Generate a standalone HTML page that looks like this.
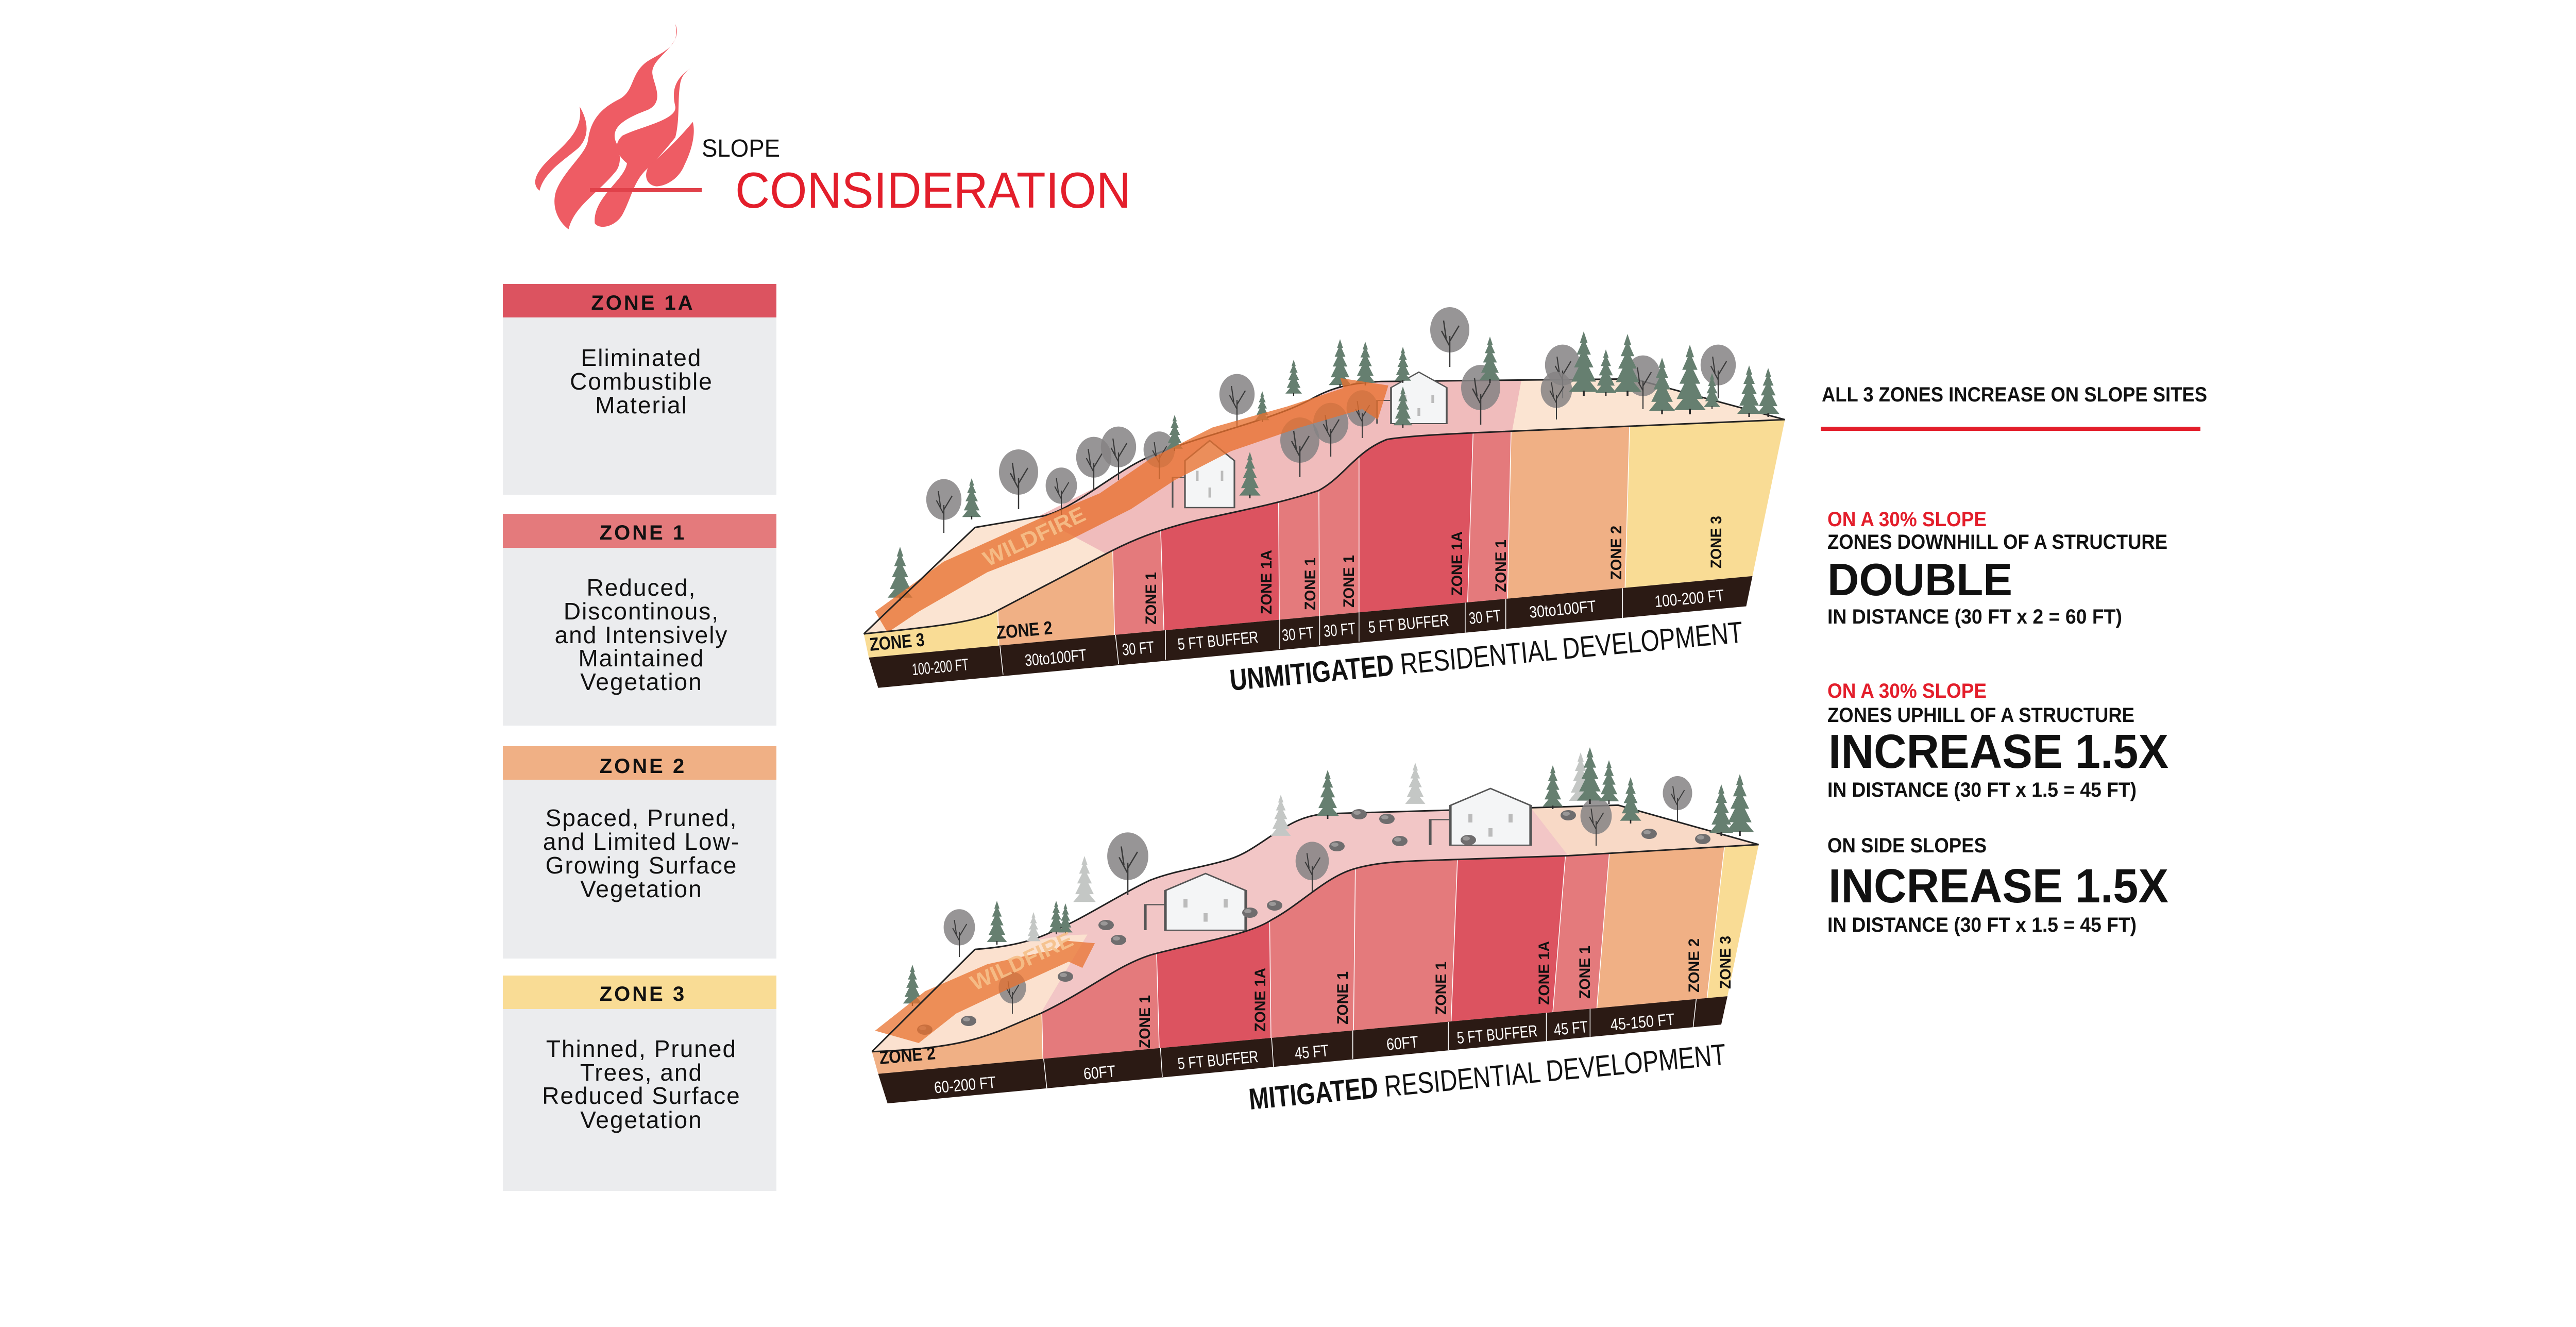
<!DOCTYPE html>
<html><head><meta charset="utf-8"><style>
html,body{margin:0;padding:0;background:#fff;}
svg{display:block;}
</style></head><body>
<svg xmlns="http://www.w3.org/2000/svg" width="5278" height="2575" viewBox="0 0 5278 2575">
<defs>
<g id="con"><path d="M0,-100 L-6,-82 L-3,-82 L-11,-64 L-5,-64 L-15,-44 L-8,-44 L-19,-22 L-10,-22 L-23,-6 L23,-6 L10,-22 L19,-22 L8,-44 L15,-44 L5,-64 L11,-64 L3,-82 L6,-82Z" fill="#667f70"/><rect x="-1.5" y="-8" width="3" height="8" fill="#2a2a2a"/></g>
<g id="conl"><path d="M0,-100 L-6,-82 L-3,-82 L-11,-64 L-5,-64 L-15,-44 L-8,-44 L-19,-22 L-10,-22 L-23,-6 L23,-6 L10,-22 L19,-22 L8,-44 L15,-44 L5,-64 L11,-64 L3,-82 L6,-82Z" fill="#c4c7c5"/></g>
<g id="dec"><ellipse cx="0" cy="-72" rx="38" ry="44" fill="#858384" opacity=".85"/><path d="M0,0 V-60 M0,-40 L-16,-70 M0,-50 L18,-80 M-7,-55 L-12,-90" stroke="#3a3a3a" stroke-width="2.5" fill="none"/></g>
<g id="rock"><ellipse cx="0" cy="-9" rx="15" ry="10" fill="#6f6d6e"/><ellipse cx="-4" cy="-12" rx="7" ry="4" fill="#9a9898"/></g>
<g id="house"><path d="M0,0 L0,-70 L30,-100 L60,-70 L60,0 Z" fill="#f4f5f6" stroke="#555" stroke-width="2"/><path d="M-15,0 V-45 H0" fill="none" stroke="#555" stroke-width="2"/><path d="M15,-55 v15 M45,-55 v15 M30,-30 v15" stroke="#bbb" stroke-width="3"/></g>
</defs>

<!-- Flame logo -->
<g transform="translate(900,0) scale(0.8929,0.3333)" fill="#ee5c64">
<path d="M252,620 C262,760 215,850 185,930 C150,1020 150,1080 165,1110 C175,1000 220,930 250,860 C275,790 270,700 252,620 Z"/>
<path d="M460,140 C470,250 445,290 410,340 C360,410 375,520 340,575 C290,640 275,720 270,820 C265,900 215,1000 200,1120 C190,1220 210,1300 228,1335 C240,1200 290,1130 330,1000 C345,950 340,880 330,820 C320,740 350,690 400,640 C440,590 410,480 410,420 C410,330 480,260 460,140 Z"/>
<path d="M495,395 C450,470 455,560 460,620 C465,700 380,740 345,790 C320,850 340,920 355,950 C350,1050 280,1150 285,1300 C295,1340 330,1320 345,1250 C365,1150 370,1050 400,980 C430,900 445,850 460,800 C470,700 465,580 470,500 C472,450 480,420 495,395 Z"/>
<path d="M498,710 C470,800 440,880 405,960 C390,1010 395,1080 420,1085 C445,1080 470,1030 480,960 C495,880 505,780 498,710 Z"/>
</g>
<rect x="1145" y="365" width="217" height="8" fill="#e0414a"/>
<text x="1362" y="304" font-family="Liberation Sans Narrow, Liberation Sans, sans-serif" font-size="48" fill="#111" textLength="152" lengthAdjust="spacingAndGlyphs">SLOPE</text>
<text x="1427" y="403" font-family="Liberation Sans Narrow, Liberation Sans, sans-serif" font-size="98" fill="#e31e2b" textLength="768" lengthAdjust="spacingAndGlyphs">CONSIDERATION</text>

<!-- Left legend -->
<g font-family="Liberation Sans, sans-serif" text-anchor="middle">
<rect x="976" y="551" width="531" height="65" fill="#dc5360"/>
<rect x="976" y="616" width="531" height="344" fill="#ebecee"/>
<text x="1248" y="601" font-size="40" font-weight="bold" fill="#111" letter-spacing="4">ZONE 1A</text>
<g font-size="46" fill="#111" letter-spacing="2"><text x="1245" y="710">Eliminated</text><text x="1245" y="756">Combustible</text><text x="1245" y="802">Material</text></g>

<rect x="976" y="997" width="531" height="66" fill="#e47a7c"/>
<rect x="976" y="1063" width="531" height="345" fill="#ebecee"/>
<text x="1248" y="1047" font-size="40" font-weight="bold" fill="#111" letter-spacing="4">ZONE 1</text>
<g font-size="46" fill="#111" letter-spacing="2"><text x="1245" y="1156">Reduced,</text><text x="1245" y="1202">Discontinous,</text><text x="1245" y="1248">and Intensively</text><text x="1245" y="1293">Maintained</text><text x="1245" y="1339">Vegetation</text></g>

<rect x="976" y="1448" width="531" height="65" fill="#f0b085"/>
<rect x="976" y="1513" width="531" height="347" fill="#ebecee"/>
<text x="1248" y="1500" font-size="40" font-weight="bold" fill="#111" letter-spacing="4">ZONE 2</text>
<g font-size="46" fill="#111" letter-spacing="2"><text x="1245" y="1603">Spaced, Pruned,</text><text x="1245" y="1649">and Limited Low-</text><text x="1245" y="1695">Growing Surface</text><text x="1245" y="1741">Vegetation</text></g>

<rect x="976" y="1893" width="531" height="65" fill="#f9dc95"/>
<rect x="976" y="1958" width="531" height="353" fill="#ebecee"/>
<text x="1248" y="1942" font-size="40" font-weight="bold" fill="#111" letter-spacing="4">ZONE 3</text>
<g font-size="46" fill="#111" letter-spacing="2"><text x="1245" y="2051">Thinned, Pruned</text><text x="1245" y="2097">Trees, and</text><text x="1245" y="2142">Reduced Surface</text><text x="1245" y="2189">Vegetation</text></g>
</g>

<!-- Right text -->
<g font-family="Liberation Sans, sans-serif" font-weight="bold" fill="#111">
<text x="3536" y="779" font-size="40" textLength="748" lengthAdjust="spacingAndGlyphs">ALL 3 ZONES INCREASE ON SLOPE SITES</text>
<rect x="3534" y="828" width="737" height="8" fill="#e31e2b"/>
<text x="3547" y="1021" font-size="40" fill="#e31e2b" textLength="309" lengthAdjust="spacingAndGlyphs">ON A 30% SLOPE</text>
<text x="3547" y="1065" font-size="40" textLength="660" lengthAdjust="spacingAndGlyphs">ZONES DOWNHILL OF A STRUCTURE</text>
<text x="3547" y="1155" font-size="88" textLength="359" lengthAdjust="spacingAndGlyphs">DOUBLE</text>
<text x="3547" y="1210" font-size="40" textLength="572" lengthAdjust="spacingAndGlyphs">IN DISTANCE (30 FT x 2 = 60 FT)</text>
<text x="3547" y="1354" font-size="40" fill="#e31e2b" textLength="309" lengthAdjust="spacingAndGlyphs">ON A 30% SLOPE</text>
<text x="3547" y="1401" font-size="40" textLength="596" lengthAdjust="spacingAndGlyphs">ZONES UPHILL OF A STRUCTURE</text>
<text x="3549" y="1490" font-size="93" textLength="660" lengthAdjust="spacingAndGlyphs">INCREASE 1.5X</text>
<text x="3547" y="1546" font-size="40" textLength="600" lengthAdjust="spacingAndGlyphs">IN DISTANCE (30 FT x 1.5 = 45 FT)</text>
<text x="3547" y="1654" font-size="40" textLength="309" lengthAdjust="spacingAndGlyphs">ON SIDE SLOPES</text>
<text x="3549" y="1751" font-size="93" textLength="660" lengthAdjust="spacingAndGlyphs">INCREASE 1.5X</text>
<text x="3547" y="1808" font-size="40" textLength="600" lengthAdjust="spacingAndGlyphs">IN DISTANCE (30 FT x 1.5 = 45 FT)</text>
</g>

<!-- ============ TOP DIAGRAM ============ -->
<g transform="translate(1650,600) scale(1.2121,0.5102)">
<path d="M22,1235 C100,1215 180,1200 225,1160 L410,930 C450,880 490,840 560,800 C640,760 700,730 750,690 C790,640 810,540 860,495 C900,480 960,475 1000,470 L1497,420 L1255,265 L850,275 C800,280 770,300 740,340 C680,420 560,480 480,560 C420,620 350,780 300,790 L200,830 Z" fill="#fbe4d2"/>
<path d="M410,930 C450,880 490,840 560,800 C640,760 700,730 750,690 C790,640 810,540 860,495 C900,480 960,475 1060,465 L1075,270 L850,275 C800,280 770,300 740,340 C680,420 560,480 480,560 C440,600 420,640 400,670 L300,790 Z" fill="#f0bcbc"/>
<path d="M200,830 L300,790 C350,780 420,620 480,560 C560,480 680,420 740,340 C770,300 800,280 850,275 L1255,265 L1497,420" fill="none" stroke="#222" stroke-width="3" vector-effect="non-scaling-stroke"/>
</g>
<!-- top trees -->
<g>
<use href="#dec" transform="translate(1832,1034) scale(0.9)"/>
<use href="#dec" transform="translate(1977,988) scale(1)"/>
<use href="#dec" transform="translate(2060,1000) scale(0.8)"/>
<use href="#dec" transform="translate(2123,952) scale(0.9)"/>
<use href="#dec" transform="translate(2171,932) scale(0.9)"/>
<use href="#dec" transform="translate(2250,930) scale(0.8)"/>
<use href="#dec" transform="translate(2401,830) scale(0.9)"/>
<use href="#dec" transform="translate(2523,926) scale(1)"/>
<use href="#dec" transform="translate(2583,886) scale(0.9)"/>
<use href="#dec" transform="translate(2644,850) scale(0.8)"/>
<use href="#dec" transform="translate(2814,712) scale(1)"/>
<use href="#dec" transform="translate(2874,824) scale(1)"/>
<use href="#dec" transform="translate(3033,773) scale(0.9)"/>
<use href="#dec" transform="translate(3021,814) scale(0.8)"/>
<use href="#dec" transform="translate(3189,794) scale(0.9)"/>
<use href="#dec" transform="translate(3335,773) scale(0.9)"/>
<use href="#house" transform="translate(2300,985) scale(1.6,1.3)"/>
<use href="#house" transform="translate(2700,822) scale(1.8,1.0)"/>
<use href="#con" transform="translate(1747,1166) scale(1.05)"/>
<use href="#con" transform="translate(1886,1008) scale(0.8)"/>
<use href="#con" transform="translate(2280,875) scale(0.7)"/>
<use href="#con" transform="translate(2450,819) scale(0.6)"/>
<use href="#con" transform="translate(2511,768) scale(0.7)"/>
<use href="#con" transform="translate(2426,967) scale(0.9)"/>
<use href="#con" transform="translate(2601,753) scale(0.95)"/>
<use href="#con" transform="translate(2650,748) scale(0.85)"/>
<use href="#con" transform="translate(2723,743) scale(0.7)"/>
<use href="#con" transform="translate(2723,830) scale(0.8)"/>
<use href="#con" transform="translate(2892,743) scale(0.9)"/>
<use href="#con" transform="translate(3074,768) scale(1.25)"/>
<use href="#con" transform="translate(3117,768) scale(0.9)"/>
<use href="#con" transform="translate(3159,768) scale(1.2)"/>
<use href="#con" transform="translate(3226,804) scale(1.1)"/>
<use href="#con" transform="translate(3280,804) scale(1.35)"/>
<use href="#con" transform="translate(3323,794) scale(0.7)"/>
<use href="#con" transform="translate(3395,809) scale(1)"/>
<use href="#con" transform="translate(3432,809) scale(0.95)"/>
</g>
<g transform="translate(1650,600) scale(1.2121,0.5102)">
<path d="M40,1150 L150,960 L300,800 L400,700 L480,570 L580,450 L700,370 L790,300 L785,262 L862,290 L845,420 L820,380 L720,450 L610,540 L520,650 L450,760 L350,880 L220,1000 L110,1150 L60,1230 Z" fill="#e8712f" opacity="0.78"/>
<defs><clipPath id="f1"><path d="M22,1235 C100,1215 180,1200 225,1160 L410,930 C450,880 490,840 560,800 C640,760 700,730 750,690 C790,640 810,540 860,495 C900,480 960,475 1000,470 L1497,420 L1445,1015 L30,1325 Z"/></clipPath></defs>
<g clip-path="url(#f1)">
<polygon points="0,300 225,300 240,1400 0,1400" fill="#f9dc95"/>
<polygon points="225,300 415,300 425,1400 240,1400" fill="#f0b085"/>
<polygon points="415,300 490,300 505,1400 425,1400" fill="#e47a7c"/>
<polygon points="490,300 685,300 688,1400 505,1400" fill="#dc5360"/>
<polygon points="685,300 750,300 752,1400 688,1400" fill="#e47a7c"/>
<polygon points="750,300 815,300 815,1400 752,1400" fill="#e47a7c"/>
<polygon points="815,300 1000,300 985,1400 815,1400" fill="#dc5360"/>
<polygon points="1000,300 1060,300 1050,1400 985,1400" fill="#e47a7c"/>
<polygon points="1060,300 1250,300 1237,1400 1050,1400" fill="#f0b085"/>
<polygon points="1250,300 1600,300 1600,1400 1237,1400" fill="#f9dc95"/>
<path d="M225,300 L240,1400 M415,300 L425,1400 M490,300 L505,1400 M685,300 L688,1400 M750,300 L752,1400 M815,300 L815,1400 M1000,300 L985,1400 M1060,300 L1050,1400 M1250,300 L1237,1400" stroke="#fff" stroke-width="1.5" vector-effect="non-scaling-stroke"/>
</g>
<path d="M22,1235 C100,1215 180,1200 225,1160 L410,930 C450,880 490,840 560,800 C640,760 700,730 750,690 C790,640 810,540 860,495 C900,480 960,475 1000,470 L1497,420 M22,1235 L200,830" fill="none" stroke="#222" stroke-width="3" vector-effect="non-scaling-stroke"/>
<polygon points="30,1325 1445,1015 1435,1130 45,1440" fill="#2b1a14"/>
<path d="M240,1280 L245,1390 M425,1239 L430,1349 M505,1221 L505,1333 M688,1181 L688,1292 M752,1167 L752,1278 M815,1153 L815,1264 M985,1116 L985,1230 M1050,1102 L1050,1216 M1237,1061 L1237,1174" stroke="#fff" stroke-width="1.5" vector-effect="non-scaling-stroke"/>
</g>
<text transform="translate(1917,1100) rotate(-25.5)" font-family="Liberation Sans, sans-serif" font-weight="bold" font-size="42" fill="#f6c08a" textLength="214" lengthAdjust="spacingAndGlyphs" opacity="0.9">WILDFIRE</text>
<!-- top labels -->
<g font-family="Liberation Sans Narrow, Liberation Sans, sans-serif" font-size="32" fill="#fff" text-anchor="middle">
<text transform="translate(1826,1305) rotate(-5.3)" textLength="110" lengthAdjust="spacingAndGlyphs">100-200 FT</text>
<text transform="translate(2050,1287) rotate(-5.3)" textLength="120" lengthAdjust="spacingAndGlyphs">30to100FT</text>
<text transform="translate(2210,1269) rotate(-5.3)" textLength="62" lengthAdjust="spacingAndGlyphs">30 FT</text>
<text transform="translate(2365,1254) rotate(-5.3)" textLength="157" lengthAdjust="spacingAndGlyphs">5 FT BUFFER</text>
<text transform="translate(2520,1241) rotate(-5.3)" textLength="62" lengthAdjust="spacingAndGlyphs">30 FT</text>
<text transform="translate(2601,1233) rotate(-5.3)" textLength="62" lengthAdjust="spacingAndGlyphs">30 FT</text>
<text transform="translate(2735,1221) rotate(-5.3)" textLength="157" lengthAdjust="spacingAndGlyphs">5 FT BUFFER</text>
<text transform="translate(2883,1208) rotate(-5.3)" textLength="62" lengthAdjust="spacingAndGlyphs">30 FT</text>
<text transform="translate(3034,1193) rotate(-5.3)" textLength="130" lengthAdjust="spacingAndGlyphs">30to100FT</text>
<text transform="translate(3280,1172) rotate(-5.3)" textLength="135" lengthAdjust="spacingAndGlyphs">100-200 FT</text>
</g>
<g font-family="Liberation Sans, sans-serif" font-weight="bold" font-size="30" fill="#111">
<text transform="translate(1689,1263) rotate(-5.3)" textLength="107" lengthAdjust="spacingAndGlyphs" font-family="Liberation Sans Narrow, Liberation Sans, sans-serif" font-size="36">ZONE 3</text>
<text transform="translate(1935,1240) rotate(-5.3)" textLength="109" lengthAdjust="spacingAndGlyphs" font-family="Liberation Sans Narrow, Liberation Sans, sans-serif" font-size="36">ZONE 2</text>
<text transform="translate(2244,1212) rotate(-90)" textLength="102" lengthAdjust="spacingAndGlyphs">ZONE 1</text>
<text transform="translate(2468,1192) rotate(-90)" textLength="125" lengthAdjust="spacingAndGlyphs">ZONE 1A</text>
<text transform="translate(2553,1184) rotate(-90)" textLength="102" lengthAdjust="spacingAndGlyphs">ZONE 1</text>
<text transform="translate(2628,1179) rotate(-90)" textLength="102" lengthAdjust="spacingAndGlyphs">ZONE 1</text>
<text transform="translate(2838,1156) rotate(-90)" textLength="125" lengthAdjust="spacingAndGlyphs">ZONE 1A</text>
<text transform="translate(2923,1149) rotate(-90)" textLength="102" lengthAdjust="spacingAndGlyphs">ZONE 1</text>
<text transform="translate(3147,1125) rotate(-90)" textLength="105" lengthAdjust="spacingAndGlyphs">ZONE 2</text>
<text transform="translate(3341,1103) rotate(-90)" textLength="102" lengthAdjust="spacingAndGlyphs">ZONE 3</text>
</g>
<text transform="translate(2389,1340) rotate(-5.4)" font-family="Liberation Sans Narrow, Liberation Sans, sans-serif" font-size="58" fill="#111" textLength="1000" lengthAdjust="spacingAndGlyphs"><tspan font-weight="bold">UNMITIGATED</tspan> RESIDENTIAL DEVELOPMENT</text>

<!-- ============ BOTTOM DIAGRAM ============ -->
<g transform="translate(1650,1450) scale(1.2121,0.4783)">
<path d="M35,1235 C150,1225 200,1190 240,1150 L305,1080 C380,990 430,880 485,840 C560,790 640,760 675,700 C720,640 760,530 805,495 C850,460 900,462 975,455 L1150,440 L1455,395 L1230,235 L760,270 C720,280 700,320 680,350 C650,400 630,440 600,460 C560,490 520,500 480,540 C430,600 370,700 330,740 C300,780 260,810 200,820 Z" fill="#f2c6c6"/>
<path d="M35,1235 C150,1225 200,1190 240,1150 L305,1080 L380,760 C340,760 300,780 250,810 L200,820 Z" fill="#fbe1cf"/>
<path d="M1150,440 L1455,395 L1230,235 L1090,245 Z" fill="#f8d9c6"/>
<path d="M200,820 C260,810 300,780 330,740 C370,700 430,600 480,540 C520,500 560,490 600,460 C630,440 650,400 680,350 C700,320 720,280 760,270 L1230,235 L1455,395" fill="none" stroke="#222" stroke-width="3" vector-effect="non-scaling-stroke"/>
</g>
<g>
<use href="#conl" transform="translate(2105,1756) scale(0.95)"/>
<use href="#conl" transform="translate(2486,1627) scale(0.85)"/>
<use href="#conl" transform="translate(2747,1565) scale(0.85)"/>
<use href="#conl" transform="translate(3068,1560) scale(1)"/>
<use href="#conl" transform="translate(2006,1830) scale(0.6)"/>
<use href="#dec" transform="translate(1862,1857) scale(0.8)"/>
<use href="#dec" transform="translate(2189,1737) scale(1.05)"/>
<use href="#dec" transform="translate(2547,1732) scale(0.85)"/>
<use href="#dec" transform="translate(3098,1641) scale(0.8)"/>
<use href="#dec" transform="translate(3256,1593) scale(0.75)"/>
<use href="#dec" transform="translate(1965,1967) scale(0.7)"/>
<use href="#house" transform="translate(2262,1805) scale(2.6,1.1)"/>
<use href="#house" transform="translate(2815,1640) scale(2.6,1.1)"/>
<use href="#con" transform="translate(1771,1952) scale(0.8)"/>
<use href="#con" transform="translate(1935,1833) scale(0.85)"/>
<use href="#con" transform="translate(2050,1813) scale(0.65)"/>
<use href="#con" transform="translate(2068,1813) scale(0.6)"/>
<use href="#con" transform="translate(2577,1589) scale(0.95)"/>
<use href="#con" transform="translate(3014,1570) scale(0.85)"/>
<use href="#con" transform="translate(3086,1560) scale(1.1)"/>
<use href="#con" transform="translate(3123,1560) scale(0.85)"/>
<use href="#con" transform="translate(3165,1598) scale(0.9)"/>
<use href="#con" transform="translate(3341,1622) scale(1)"/>
<use href="#con" transform="translate(3377,1622) scale(1.2)"/>
<use href="#rock" transform="translate(2474,1766)"/>
<use href="#rock" transform="translate(2426,1780)"/>
<use href="#rock" transform="translate(2147,1804)"/>
<use href="#rock" transform="translate(2171,1833)"/>
<use href="#rock" transform="translate(2068,1904)"/>
<use href="#rock" transform="translate(1795,2007)"/>
<use href="#rock" transform="translate(1880,1990)"/>
<use href="#rock" transform="translate(2717,1641)"/>
<use href="#rock" transform="translate(2692,1598)"/>
<use href="#rock" transform="translate(2595,1651)"/>
<use href="#rock" transform="translate(2850,1639)"/>
<use href="#rock" transform="translate(3044,1591)"/>
<use href="#rock" transform="translate(3201,1627)"/>
<use href="#rock" transform="translate(3305,1637)"/>
<use href="#rock" transform="translate(2638,1589)"/>
</g>
<g transform="translate(1650,1450) scale(1.2121,0.4783)">
<path d="M40,1150 L120,990 L220,880 L330,820 L345,785 L392,795 L372,895 L350,870 L250,985 L170,1080 L110,1200 Z" fill="#e8712f" opacity="0.75"/>
<defs><clipPath id="f2"><path d="M35,1235 C150,1225 200,1190 240,1150 L305,1080 C380,990 430,880 485,840 C560,790 640,760 675,700 C720,640 760,530 805,495 C850,460 900,462 975,455 L1150,440 L1455,395 L1405,1010 L45,1325 Z"/></clipPath></defs>
<g clip-path="url(#f2)">
<polygon points="0,300 300,300 310,1400 0,1400" fill="#f0b085"/>
<polygon points="300,300 485,300 497,1400 310,1400" fill="#e47a7c"/>
<polygon points="485,300 670,300 675,1400 497,1400" fill="#dc5360"/>
<polygon points="670,300 810,300 805,1400 675,1400" fill="#e47a7c"/>
<polygon points="810,300 975,300 958,1400 805,1400" fill="#e47a7c"/>
<polygon points="975,300 1150,300 1115,1400 958,1400" fill="#dc5360"/>
<polygon points="1150,300 1220,300 1185,1400 1115,1400" fill="#e47a7c"/>
<polygon points="1220,300 1405,300 1355,1400 1185,1400" fill="#f0b085"/>
<polygon points="1405,300 1600,300 1600,1400 1355,1400" fill="#f9dc95"/>
<path d="M300,300 L310,1400 M485,300 L497,1400 M670,300 L675,1400 M810,300 L805,1400 M975,300 L958,1400 M1150,300 L1115,1400 M1220,300 L1185,1400 M1405,300 L1355,1400" stroke="#fff" stroke-width="1.5" vector-effect="non-scaling-stroke"/>
</g>
<path d="M35,1235 C150,1225 200,1190 240,1150 L305,1080 C380,990 430,880 485,840 C560,790 640,760 675,700 C720,640 760,530 805,495 C850,460 900,462 975,455 L1150,440 L1455,395 M35,1235 L200,820" fill="none" stroke="#222" stroke-width="3" vector-effect="non-scaling-stroke"/>
<polygon points="45,1325 1405,1010 1395,1125 60,1445" fill="#2b1a14"/>
<path d="M310,1264 L315,1383 M497,1220 L500,1338 M675,1179 L678,1296 M805,1149 L805,1264 M958,1114 L958,1229 M1115,1077 L1115,1193 M1185,1061 L1185,1176 M1355,1022 L1350,1136" stroke="#fff" stroke-width="1.5" vector-effect="non-scaling-stroke"/>
</g>
<text transform="translate(1892,1923) rotate(-24.9)" font-family="Liberation Sans, sans-serif" font-weight="bold" font-size="42" fill="#f6c08a" textLength="214" lengthAdjust="spacingAndGlyphs" opacity="0.9">WILDFIRE</text>
<g font-family="Liberation Sans Narrow, Liberation Sans, sans-serif" font-size="32" fill="#fff" text-anchor="middle">
<text transform="translate(1874,2116) rotate(-5.2)" textLength="120" lengthAdjust="spacingAndGlyphs">60-200 FT</text>
<text transform="translate(2135,2092) rotate(-5.2)" textLength="62" lengthAdjust="spacingAndGlyphs">60FT</text>
<text transform="translate(2365,2068) rotate(-5.2)" textLength="157" lengthAdjust="spacingAndGlyphs">5 FT BUFFER</text>
<text transform="translate(2547,2052) rotate(-5.2)" textLength="66" lengthAdjust="spacingAndGlyphs">45 FT</text>
<text transform="translate(2723,2035) rotate(-5.2)" textLength="62" lengthAdjust="spacingAndGlyphs">60FT</text>
<text transform="translate(2907,2018) rotate(-5.2)" textLength="157" lengthAdjust="spacingAndGlyphs">5 FT BUFFER</text>
<text transform="translate(3050,2006) rotate(-5.2)" textLength="66" lengthAdjust="spacingAndGlyphs">45 FT</text>
<text transform="translate(3189,1994) rotate(-5.2)" textLength="125" lengthAdjust="spacingAndGlyphs">45-150 FT</text>
</g>
<g font-family="Liberation Sans, sans-serif" font-weight="bold" font-size="30" fill="#111">
<text transform="translate(1708,2065) rotate(-5.2)" textLength="109" lengthAdjust="spacingAndGlyphs" font-family="Liberation Sans Narrow, Liberation Sans, sans-serif" font-size="36">ZONE 2</text>
<text transform="translate(2232,2034) rotate(-90)" textLength="103" lengthAdjust="spacingAndGlyphs">ZONE 1</text>
<text transform="translate(2456,2002) rotate(-90)" textLength="124" lengthAdjust="spacingAndGlyphs">ZONE 1A</text>
<text transform="translate(2616,1988) rotate(-90)" textLength="103" lengthAdjust="spacingAndGlyphs">ZONE 1</text>
<text transform="translate(2807,1969) rotate(-90)" textLength="103" lengthAdjust="spacingAndGlyphs">ZONE 1</text>
<text transform="translate(3007,1950) rotate(-90)" textLength="124" lengthAdjust="spacingAndGlyphs">ZONE 1A</text>
<text transform="translate(3086,1938) rotate(-90)" textLength="103" lengthAdjust="spacingAndGlyphs">ZONE 1</text>
<text transform="translate(3298,1926) rotate(-90)" textLength="105" lengthAdjust="spacingAndGlyphs">ZONE 2</text>
<text transform="translate(3359,1919) rotate(-90)" textLength="103" lengthAdjust="spacingAndGlyphs">ZONE 3</text>
</g>
<text transform="translate(2426,2153) rotate(-5.4)" font-family="Liberation Sans Narrow, Liberation Sans, sans-serif" font-size="58" fill="#111" textLength="930" lengthAdjust="spacingAndGlyphs"><tspan font-weight="bold">MITIGATED</tspan> RESIDENTIAL DEVELOPMENT</text>
</svg>
</body></html>
